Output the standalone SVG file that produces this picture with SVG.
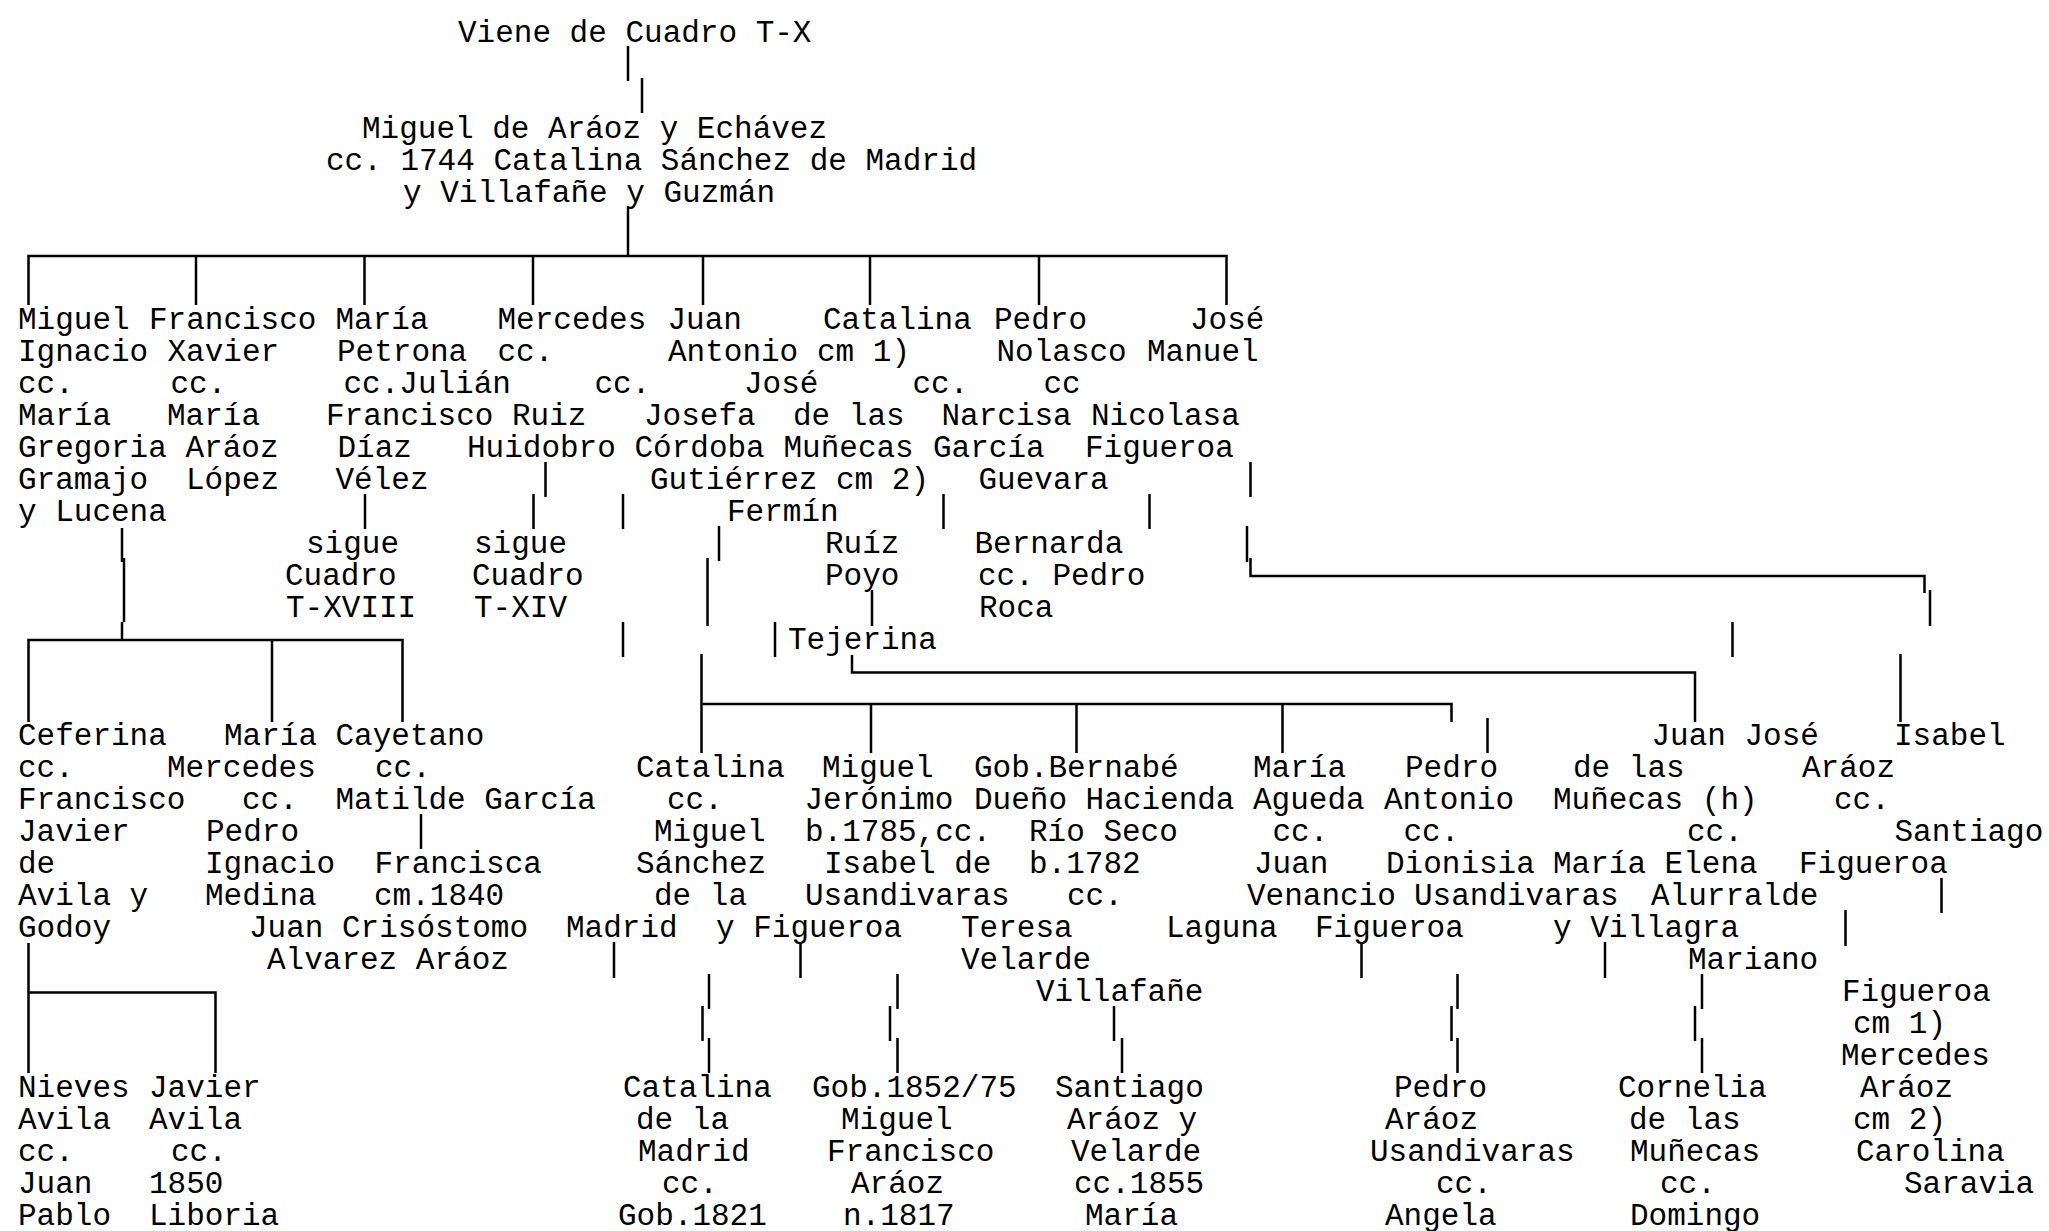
<svg xmlns="http://www.w3.org/2000/svg" width="2049" height="1231" viewBox="0 0 2049 1231">
<style>
text{font-family:"Liberation Mono","Courier New",monospace;font-size:31px;fill:#000;}
.c{stroke:#000;stroke-width:2.5;fill:none;}
</style>
<rect width="2049" height="1231" fill="#fff"/>
<g id="connectors" class="c">
<path d="M628 46V81M642 78V113M628 206V256M28.5 305V256H1226.5V305M196 256V305M364.5 256V305M533 256V305M703 256V305M870 256V305M1039 256V305"/>
<path d="M122 528V562M124 558V622M122 622V640M28.5 722V640H402.5V722M272 640V722"/>
<path d="M365 494V529M545.5 462V497M533.5 494V529"/>
<path d="M623 494V529M623 622V657M719 526V561M707.5 558V626"/>
<path d="M701.5 654V753M701.5 704H1451.5V722M871 704V753M1076.5 704V753M1282.5 704V753M1487.5 718V753"/>
<path d="M943.5 494V529M872 590V626M775 622V657M852 655V672.5H1695V722"/>
<path d="M1149.5 494V529"/>
<path d="M1250.5 462V497M1247 526V562M1250.5 558V576H1924.5V593M1930 590V626M1900.5 654V722M1732.5 622V657"/>
<path d="M421 814V849M28.5 943V1073M28.5 992.5H215.5V1073"/>
<path d="M614 942V978M709 974V1009M702.5 1006V1041M709 1038V1073"/>
<path d="M800.5 942V978M897.5 974V1009M890 1006V1041M897.5 1038V1073"/>
<path d="M1114 1006V1041M1122 1038V1073"/>
<path d="M1361.5 942V978M1457.5 974V1009M1451.5 1006V1041M1457.5 1038V1073"/>
<path d="M1605 942V978M1702 974V1009M1695 1006V1041M1702 1038V1073"/>
<path d="M1941.5 878V913M1845.5 910V946"/>
</g>
<g id="nodes">
<g id="viene"><text x="458" y="42">Viene de Cuadro T-X</text></g>
<g id="root"><text><tspan x="362" y="138">Miguel de Aráoz y Echávez</tspan><tspan x="326" y="170">cc. 1744 Catalina Sánchez de Madrid</tspan><tspan x="403" y="202">y Villafañe y Guzmán</tspan></text></g>
<g id="miguel-ignacio"><text><tspan x="18" y="329">Miguel</tspan><tspan x="18" y="361">Ignacio</tspan><tspan x="18" y="393">cc.</tspan><tspan x="18" y="425">María</tspan><tspan x="18" y="457">Gregoria</tspan><tspan x="18" y="489">Gramajo</tspan><tspan x="18" y="521">y Lucena</tspan></text></g>
<g id="francisco-xavier"><text><tspan x="149" y="329">Francisco</tspan><tspan x="167.5" y="361">Xavier</tspan><tspan x="170.5" y="393">cc.</tspan><tspan x="167" y="425">María</tspan><tspan x="185.5" y="457">Aráoz</tspan><tspan x="186" y="489">López</tspan></text></g>
<g id="maria-petrona"><text><tspan x="335.5" y="329">María</tspan><tspan x="337" y="361">Petrona</tspan><tspan x="343.5" y="393">cc.Julián</tspan><tspan x="326" y="425">Francisco</tspan><tspan x="337.5" y="457">Díaz</tspan><tspan x="335.5" y="489">Vélez</tspan><tspan x="306" y="553">sigue</tspan><tspan x="285" y="585">Cuadro</tspan><tspan x="286" y="617">T-XVIII</tspan></text></g>
<g id="mercedes"><text><tspan x="497.5" y="329">Mercedes</tspan><tspan x="497.5" y="361">cc.</tspan><tspan x="512" y="425">Ruiz</tspan><tspan x="467" y="457">Huidobro</tspan><tspan x="474" y="553">sigue</tspan><tspan x="472" y="585">Cuadro</tspan><tspan x="474" y="617">T-XIV</tspan></text></g>
<g id="juan-antonio"><text><tspan x="667.5" y="329">Juan</tspan><tspan x="668" y="361">Antonio</tspan><tspan x="594.5" y="393">cc.</tspan><tspan x="644" y="425">Josefa</tspan><tspan x="634.5" y="457">Córdoba</tspan><tspan x="650" y="489">Gutiérrez</tspan></text></g>
<g id="catalina"><text><tspan x="823" y="329">Catalina</tspan><tspan x="817" y="361">cm 1)</tspan><tspan x="744" y="393">José</tspan><tspan x="793" y="425">de las</tspan><tspan x="783.5" y="457">Muñecas</tspan><tspan x="836" y="489">cm 2)</tspan><tspan x="727" y="521">Fermín</tspan><tspan x="825" y="553">Ruíz</tspan><tspan x="825" y="585">Poyo</tspan><tspan x="788" y="649">Tejerina</tspan></text></g>
<g id="pedro-nolasco"><text><tspan x="994" y="329">Pedro</tspan><tspan x="996.5" y="361">Nolasco</tspan><tspan x="912.5" y="393">cc.</tspan><tspan x="941.5" y="425">Narcisa</tspan><tspan x="933" y="457">García</tspan><tspan x="978.5" y="489">Guevara</tspan><tspan x="974.5" y="553">Bernarda</tspan><tspan x="978" y="585">cc. Pedro</tspan><tspan x="979" y="617">Roca</tspan></text></g>
<g id="jose-manuel"><text><tspan x="1190" y="329">José</tspan><tspan x="1147" y="361">Manuel</tspan><tspan x="1043.5" y="393">cc</tspan><tspan x="1091" y="425">Nicolasa</tspan><tspan x="1085" y="457">Figueroa</tspan></text></g>
<g id="ceferina"><text><tspan x="18" y="745">Ceferina</tspan><tspan x="18" y="777">cc.</tspan><tspan x="18" y="809">Francisco</tspan><tspan x="18" y="841">Javier</tspan><tspan x="18" y="873">de</tspan><tspan x="18" y="905">Avila y</tspan><tspan x="18" y="937">Godoy</tspan></text></g>
<g id="maria-mercedes"><text><tspan x="224" y="745">María</tspan><tspan x="167" y="777">Mercedes</tspan><tspan x="242" y="809">cc.</tspan><tspan x="206" y="841">Pedro</tspan><tspan x="205" y="873">Ignacio</tspan><tspan x="205" y="905">Medina</tspan></text></g>
<g id="cayetano"><text><tspan x="335.5" y="745">Cayetano</tspan><tspan x="375" y="777">cc.</tspan><tspan x="335.5" y="809">Matilde García</tspan><tspan x="374.5" y="873">Francisca</tspan><tspan x="374" y="905">cm.1840</tspan><tspan x="249" y="937">Juan Crisóstomo</tspan><tspan x="267" y="969">Alvarez Aráoz</tspan></text></g>
<g id="nieves"><text><tspan x="18" y="1097">Nieves</tspan><tspan x="18" y="1129">Avila</tspan><tspan x="18" y="1161">cc.</tspan><tspan x="18" y="1193">Juan</tspan><tspan x="18" y="1225">Pablo</tspan></text></g>
<g id="javier"><text><tspan x="149" y="1097">Javier</tspan><tspan x="149" y="1129">Avila</tspan><tspan x="171" y="1161">cc.</tspan><tspan x="149" y="1193">1850</tspan><tspan x="149" y="1225">Liboria</tspan></text></g>
<g id="catalina-h"><text><tspan x="636" y="777">Catalina</tspan><tspan x="667" y="809">cc.</tspan><tspan x="654" y="841">Miguel</tspan><tspan x="636" y="873">Sánchez</tspan><tspan x="654" y="905">de la</tspan><tspan x="566" y="937">Madrid</tspan></text></g>
<g id="miguel-jeronimo"><text><tspan x="822" y="777">Miguel</tspan><tspan x="804.5" y="809">Jerónimo</tspan><tspan x="805" y="841">b.1785,cc.</tspan><tspan x="824" y="873">Isabel de</tspan><tspan x="805" y="905">Usandivaras</tspan><tspan x="716" y="937">y Figueroa</tspan></text></g>
<g id="bernabe"><text><tspan x="974" y="777">Gob.Bernabé</tspan><tspan x="974" y="809">Dueño Hacienda</tspan><tspan x="1029" y="841">Río Seco</tspan><tspan x="1029" y="873">b.1782</tspan><tspan x="1067" y="905">cc.</tspan><tspan x="961" y="937">Teresa</tspan><tspan x="961" y="969">Velarde</tspan><tspan x="1036" y="1001">Villafañe</tspan></text></g>
<g id="maria-agueda"><text><tspan x="1253" y="777">María</tspan><tspan x="1253" y="809">Agueda</tspan><tspan x="1272.5" y="841">cc.</tspan><tspan x="1254" y="873">Juan</tspan><tspan x="1247" y="905">Venancio</tspan><tspan x="1166" y="937">Laguna</tspan></text></g>
<g id="pedro-antonio"><text><tspan x="1405" y="777">Pedro</tspan><tspan x="1384" y="809">Antonio</tspan><tspan x="1403.5" y="841">cc.</tspan><tspan x="1386" y="873">Dionisia</tspan><tspan x="1414" y="905">Usandivaras</tspan><tspan x="1315" y="937">Figueroa</tspan></text></g>
<g id="juan-jose"><text><tspan x="1651.5" y="745">Juan José</tspan><tspan x="1573" y="777">de las</tspan><tspan x="1553" y="809">Muñecas (h)</tspan><tspan x="1687" y="841">cc.</tspan><tspan x="1553" y="873">María Elena</tspan><tspan x="1651" y="905">Alurralde</tspan><tspan x="1553" y="937">y Villagra</tspan><tspan x="1688" y="969">Mariano</tspan></text></g>
<g id="isabel"><text><tspan x="1894" y="745">Isabel</tspan><tspan x="1802" y="777">Aráoz</tspan><tspan x="1834" y="809">cc.</tspan><tspan x="1894.5" y="841">Santiago</tspan><tspan x="1799" y="873">Figueroa</tspan></text></g>
<g id="catalina-madrid"><text><tspan x="623" y="1097">Catalina</tspan><tspan x="636" y="1129">de la</tspan><tspan x="638" y="1161">Madrid</tspan><tspan x="662" y="1193">cc.</tspan><tspan x="618" y="1225">Gob.1821</tspan></text></g>
<g id="miguel-francisco"><text><tspan x="812" y="1097">Gob.1852/75</tspan><tspan x="841" y="1129">Miguel</tspan><tspan x="827" y="1161">Francisco</tspan><tspan x="851" y="1193">Aráoz</tspan><tspan x="843" y="1225">n.1817</tspan></text></g>
<g id="santiago"><text><tspan x="1055" y="1097">Santiago</tspan><tspan x="1067" y="1129">Aráoz y</tspan><tspan x="1071" y="1161">Velarde</tspan><tspan x="1074" y="1193">cc.1855</tspan><tspan x="1085" y="1225">María</tspan></text></g>
<g id="pedro-araoz"><text><tspan x="1394" y="1097">Pedro</tspan><tspan x="1385" y="1129">Aráoz</tspan><tspan x="1370" y="1161">Usandivaras</tspan><tspan x="1436" y="1193">cc.</tspan><tspan x="1385" y="1225">Angela</tspan></text></g>
<g id="cornelia"><text><tspan x="1618" y="1097">Cornelia</tspan><tspan x="1629" y="1129">de las</tspan><tspan x="1630" y="1161">Muñecas</tspan><tspan x="1660" y="1193">cc.</tspan><tspan x="1630" y="1225">Domingo</tspan></text></g>
<g id="figueroa"><text><tspan x="1842" y="1001">Figueroa</tspan><tspan x="1853" y="1033">cm 1)</tspan><tspan x="1841" y="1065">Mercedes</tspan><tspan x="1860" y="1097">Aráoz</tspan><tspan x="1853" y="1129">cm 2)</tspan><tspan x="1856" y="1161">Carolina</tspan><tspan x="1904" y="1193">Saravia</tspan></text></g>
</g>
</svg>
